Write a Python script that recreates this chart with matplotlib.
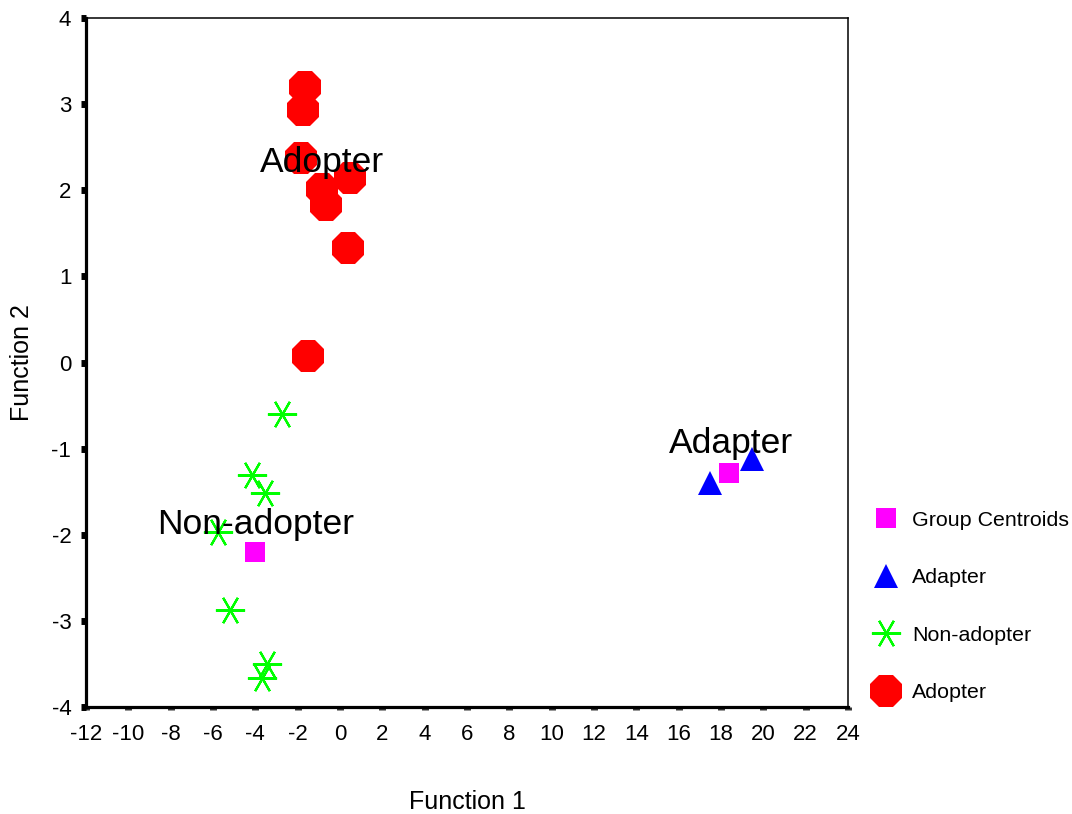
import matplotlib.pyplot as plt
from matplotlib.lines import Line2D

plt.rcParams["font.family"] = ["Liberation Sans", "DejaVu Sans"]
plt.rcParams["axes.unicode_minus"] = False

# === DONNÉES ===
adopter_x = [-1.66, -1.75, -1.84, 0.47, -0.85, -0.66, 0.38, -1.51]
adopter_y = [3.20, 2.93, 2.38, 2.14, 2.02, 1.83, 1.33, 0.08]

nonadopter_x = [-2.74, -4.16, -3.54, -5.76, -5.20, -3.45, -3.69]
nonadopter_y = [-0.60, -1.31, -1.52, -1.97, -2.87, -3.50, -3.66]

adapter_x = [17.48, 19.46]
adapter_y = [-1.40, -1.12]

centroid_x = [-4.02, 18.37]
centroid_y = [-2.20, -1.28]

group_labels = ["Adopter", "Non-adopter", "Adapter"]
label_x = [-0.83, -3.99, 18.47]
label_y = [2.21, -1.99, -1.05]

x_ticks = list(range(-12, 25, 2))
y_ticks = list(range(-4, 5, 1))

# === STYLES ===
octagon = dict(marker="8", markersize=24.5, color="#ff0000", markeredgewidth=0, linestyle="none")
star = dict(marker=(6, 2, 30), markersize=21, color="#00ff00", markeredgecolor="#00ff00",
            markeredgewidth=1.6, linestyle="none")
triangle = dict(marker="^", markersize=17, color="#0000ff", markeredgewidth=0, linestyle="none")
square = dict(marker="s", markersize=14.5, color="#ff00ff", markeredgewidth=0, linestyle="none")

fig = plt.figure(figsize=(10.72, 8.14), dpi=100)
ax = fig.add_axes([86 / 1072, 1 - 707 / 814, 762 / 1072, 689 / 814])

ax.plot(adopter_x, adopter_y, **octagon)
ax.plot(nonadopter_x, nonadopter_y, **star)
ax.plot(adapter_x, adapter_y, **triangle)
ax.plot(centroid_x, centroid_y, **square)

for txt, tx, ty in zip(group_labels, label_x, label_y):
    ax.text(tx, ty, txt, fontsize=25.5, ha="center", va="baseline", color="black")

ax.set_xlim(-12, 24)
ax.set_ylim(-4, 4)
ax.set_xticks(x_ticks)
ax.set_yticks(y_ticks)

# ───── Axes & ticks ─────
for side in ["left", "bottom"]:
    ax.spines[side].set_linewidth(2.3)
for side in ["top", "right"]:
    ax.spines[side].set_linewidth(1.1)

ax.tick_params(axis="y", direction="out", length=3.6, width=5, color="black",
               labelsize=16, pad=7)
ax.tick_params(axis="x", direction="out", length=2.2, width=5, color="#333333",
               labelsize=16, pad=10)

ax.set_xlabel("Function 1", fontsize=18)
ax.set_ylabel("Function 2", fontsize=18)
ax.xaxis.set_label_coords(0.5, -0.12)
ax.yaxis.set_label_coords(-0.068, 0.5)

# ───── Légende ─────
handles = [
    Line2D([], [], **square),
    Line2D([], [], **triangle),
    Line2D([], [], **star),
    Line2D([], [], **octagon),
]
labels = ["Group Centroids", "Adapter", "Non-adopter", "Adopter"]
ax.legend(handles, labels, loc="upper left", bbox_to_anchor=(862 / 1072, 1 - 500 / 814),
          bbox_transform=fig.transFigure, frameon=False, fontsize=15.4,
          labelspacing=1.8, handlelength=1.2, handletextpad=0.65, borderpad=0)

fig.savefig("out.png", dpi=100)
